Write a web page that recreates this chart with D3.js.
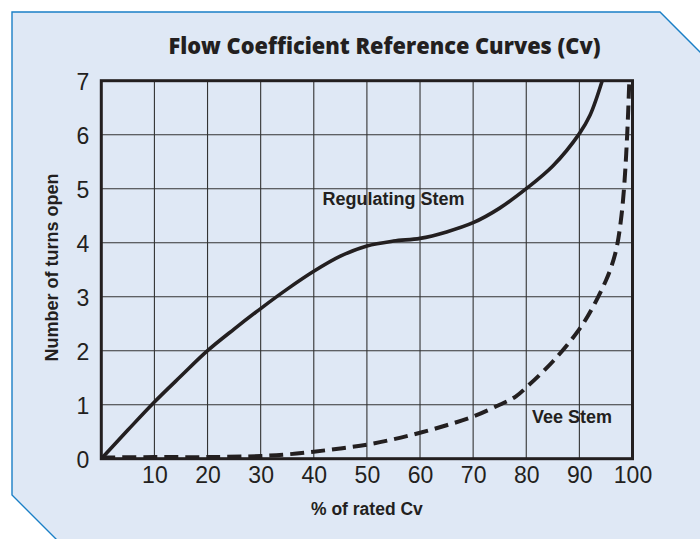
<!DOCTYPE html>
<html>
<head>
<meta charset="utf-8">
<script src="https://cdn.jsdelivr.net/npm/d3@7"></script>
<style>
  html, body { margin: 0; padding: 0; background: #ffffff; }
  svg { display: block; }
</style>
</head>
<body>
<svg id="chart" width="700" height="539"></svg>
<script>
// Percent of rated Cv vs. number of turns open
const pctCv        = [0, 5, 10, 15, 20, 25, 30, 35, 40, 45, 50, 55, 60, 65, 70, 75, 80, 85, 90, 92, 94.3];
const regulating   = [0, 0.53, 1.05, 1.53, 2.0, 2.4, 2.78, 3.14, 3.47, 3.75, 3.94, 4.03, 4.08, 4.2, 4.37, 4.64, 5.0, 5.42, 6.02, 6.36, 7.0];

const veePct       = [0, 10, 20, 30, 35, 40, 45, 50, 55, 60, 65, 70, 75, 78, 80, 85, 90, 92.5, 95, 96, 97, 97.8, 98.4, 99.0, 99.4];
const vee          = [0.02, 0.03, 0.03, 0.05, 0.08, 0.13, 0.19, 0.26, 0.36, 0.48, 0.62, 0.78, 1.0, 1.15, 1.32, 1.8, 2.4, 2.8, 3.3, 3.55, 3.9, 4.4, 5.0, 6.0, 7.0];

const xTicks = [10, 20, 30, 40, 50, 60, 70, 80, 90, 100];
const yTicks = [0, 1, 2, 3, 4, 5, 6, 7];

const titleText  = "Flow Coefficient Reference Curves (Cv)";
const xTitleText = "% of rated Cv";
const yTitleText = "Number of turns open";
const regLabel   = "Regulating Stem";
const veeLabel   = "Vee Stem";

const svg = d3.select("#chart");
const ink = "#231f20";

// Panel with clipped corners
svg.append("path")
  .attr("d", "M12,12 H660 L702,54 V560 H77 L12,495 Z")
  .attr("fill", "#dfe8f5")
  .attr("stroke", "#1a7fc6")
  .attr("stroke-width", 1.4);

const x = d3.scaleLinear().domain([0, 100]).range([101.3, 632.5]);
const y = d3.scaleLinear().domain([0, 7]).range([458.7, 80.7]);

// Grid
const grid = svg.append("g");
grid.selectAll("line.v").data(xTicks.filter(d => d < 100)).join("line")
  .attr("x1", d => x(d)).attr("x2", d => x(d))
  .attr("y1", y(7)).attr("y2", y(0))
  .attr("stroke", "#333333").attr("stroke-width", 1.1);
grid.selectAll("line.h").data(yTicks.filter(d => d > 0 && d < 7)).join("line")
  .attr("x1", x(0)).attr("x2", x(100))
  .attr("y1", d => y(d)).attr("y2", d => y(d))
  .attr("stroke", "#333333").attr("stroke-width", 1.1);

// Curves
const line = d3.line()
  .x(d => x(d[0]))
  .y(d => y(d[1]))
  .curve(d3.curveCatmullRom.alpha(0.5));

svg.append("path")
  .datum(pctCv.map((p, i) => [p, regulating[i]]))
  .attr("d", line)
  .attr("fill", "none")
  .attr("stroke", ink)
  .attr("stroke-width", 3.6)
  .attr("stroke-linecap", "butt");

svg.append("path")
  .datum(veePct.map((p, i) => [p, vee[i]]))
  .attr("d", line)
  .attr("fill", "none")
  .attr("stroke", ink)
  .attr("stroke-width", 4)
  .attr("stroke-dasharray", "14,7");

// Frame
svg.append("rect")
  .attr("x", x(0)).attr("y", y(7))
  .attr("width", x(100) - x(0)).attr("height", y(0) - y(7))
  .attr("fill", "none")
  .attr("stroke", ink)
  .attr("stroke-width", 3);

// Axes (labels only; the grid supplies the rules)
const xAxis = d3.axisBottom(x).tickValues(xTicks).tickFormat(d3.format("d")).tickSize(0).tickPadding(0);
const gx = svg.append("g").attr("transform", `translate(0,${y(0)})`).call(xAxis);
gx.select(".domain").remove();
gx.selectAll("text")
  .attr("y", 24.5).attr("dy", null)
  .attr("font-family", "'Liberation Sans', Arial, sans-serif")
  .attr("font-size", 23)
  .attr("fill", ink);

const yAxis = d3.axisLeft(y).tickValues(yTicks).tickFormat(d3.format("d")).tickSize(0).tickPadding(0);
const gy = svg.append("g").attr("transform", `translate(${x(0)},0)`).call(yAxis);
gy.select(".domain").remove();
gy.selectAll("text")
  .attr("x", -12).attr("dy", 9)
  .attr("font-family", "'Liberation Sans', Arial, sans-serif")
  .attr("font-size", 23)
  .attr("fill", ink);

// Titles
svg.append("text")
  .attr("x", 384.5).attr("y", 54.3)
  .attr("text-anchor", "middle")
  .attr("font-family", "'Open Sans', sans-serif")
  .attr("font-weight", 800)
  .attr("font-size", 22)
  .attr("textLength", 432)
  .attr("lengthAdjust", "spacingAndGlyphs")
  .attr("fill", ink)
  .text(titleText);

svg.append("text")
  .attr("x", (x(0) + x(100)) / 2).attr("y", 515)
  .attr("text-anchor", "middle")
  .attr("font-family", "'Liberation Sans', Arial, sans-serif")
  .attr("font-weight", 700)
  .attr("font-size", 17.5)
  .attr("fill", ink)
  .text(xTitleText);

svg.append("text")
  .attr("transform", `translate(58,267.5) rotate(-90)`)
  .attr("text-anchor", "middle")
  .attr("font-family", "'Liberation Sans', Arial, sans-serif")
  .attr("font-weight", 700)
  .attr("font-size", 18)
  .attr("fill", ink)
  .text(yTitleText);

// Curve labels
svg.append("text")
  .attr("x", 322.5).attr("y", 205)
  .attr("font-family", "'Liberation Sans', Arial, sans-serif")
  .attr("font-weight", 700)
  .attr("font-size", 18)
  .attr("fill", ink)
  .text(regLabel);

svg.append("text")
  .attr("x", 532).attr("y", 422.7)
  .attr("font-family", "'Liberation Sans', Arial, sans-serif")
  .attr("font-weight", 700)
  .attr("font-size", 18)
  .attr("fill", ink)
  .text(veeLabel);
</script>
</body>
</html>
